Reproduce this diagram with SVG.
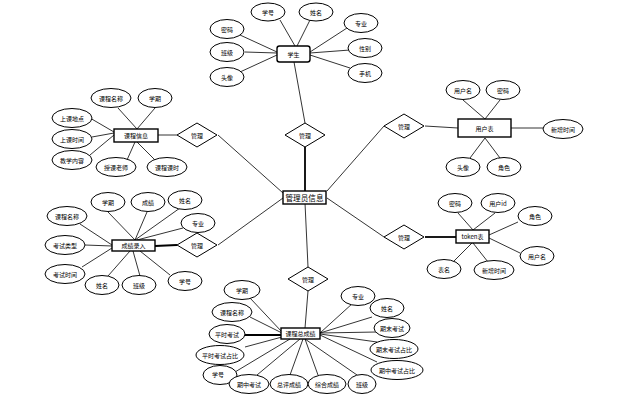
<svg xmlns="http://www.w3.org/2000/svg" width="622" height="403" viewBox="0 0 622 403">
<style>
.c{stroke:#000;stroke-width:0.8;fill:none}
.k{stroke:#000;stroke-width:1.8;fill:none}
.a{fill:#fff;stroke:#000;stroke-width:1}
.e{fill:#fff;stroke:#000;stroke-width:1.4}
.r{fill:#fff;stroke:#000;stroke-width:1}
text{font-family:"Noto Sans CJK SC","Noto Sans",sans-serif;font-size:6px;text-anchor:middle;dominant-baseline:central;fill:#000}
.big{font-size:7.6px}
</style>
<rect width="622" height="403" fill="#fff"/>
<g id="connectors">
<path class="k" d="M305,147 L305,191"/>
<path class="c" d="M294,62 L305,123"/>
<path class="c" d="M218,135 L283,193"/>
<path class="c" d="M218,245 L283,198"/>
<path class="c" d="M384,126 L327,191"/>
<path class="c" d="M384,237 L327,198"/>
<path class="c" d="M305,203 L308,267"/>
<path class="c" d="M158,135 L177,135"/>
<path class="k" d="M155,246 L177,245"/>
<path class="c" d="M425,126 L458,128"/>
<path class="k" d="M425,237 L456,237"/>
<path class="c" d="M305,328 L308,291"/>
<path class="c" d="M280,20 L295,46 M310,20 L297,46 M347,28 L310,52 M350,50 L310,53 M350,68 L310,55 M240,35 L277,52 M245,52 L277,53 M240,72 L277,55"/>
<path class="c" d="M118,108 L137,129 M155,108 L137,129 M90,118 L114,132 M92,137 L114,133 M90,155 L114,135 M127,160 L135,142 M155,160 L137,142"/>
<path class="c" d="M108,212 L135,240 M147,212 L135,240 M180,208 L135,240 M183,228 L137,240 M80,224 L112,245 M85,245 L112,246 M82,267 L112,248 M108,276 L130,251 M140,276 L133,251 M170,275 L140,251"/>
<path class="c" d="M463,100 L485,119 M500,100 L485,119 M511,128 L545,128 M470,158 L485,138 M500,158 L485,138"/>
<path class="c" d="M458,213 L473,230 M495,213 L473,230 M518,222 L489,235 M520,253 L489,238 M453,262 L472,243 M488,262 L473,243"/>
<path class="c" d="M250,298 L282,332 M250,317 L282,333 M245,347 L282,337 M235,372 L290,339 M257,375 L300,339 M290,375 L303,339 M318,375 L305,339 M357,375 L305,339 M353,303 L320,333 M372,317 L320,333 M377,332 L320,333 M377,342 L320,334 M377,362 L320,335"/>
<path class="k" d="M245,335 L282,335"/>
</g>
<g id="admin"><rect class="e" x="283" y="191" width="43" height="13"/><text class="big" x="304.5" y="197.5">管理员信息</text></g>
<g id="d1"><polygon class="r" points="285,135 305,123 325,135 305,147"/><text x="305" y="135">管理</text></g>
<g id="d2"><polygon class="r" points="177,135 197,123 217,135 197,147"/><text x="197" y="135">管理</text></g>
<g id="d3"><polygon class="r" points="177,245 197,233 217,245 197,257"/><text x="197" y="245">管理</text></g>
<g id="d4"><polygon class="r" points="384,126 404,114 424,126 404,138"/><text x="404" y="126">管理</text></g>
<g id="d5"><polygon class="r" points="384,237 404,225 424,237 404,249"/><text x="404" y="237">管理</text></g>
<g id="d6"><polygon class="r" points="288,279 308,267 328,279 308,291"/><text x="308" y="279">管理</text></g>

<g id="student"><rect class="e" x="277" y="46" width="33" height="16" rx="2.5"/><text x="293.5" y="54">学生</text></g>
<g id="s1"><ellipse class="a" cx="268" cy="12" rx="17" ry="9"/><text x="268" y="12">学号</text></g>
<g id="s2"><ellipse class="a" cx="316" cy="12" rx="17" ry="9"/><text x="316" y="12">姓名</text></g>
<g id="s3"><ellipse class="a" cx="361" cy="23" rx="17" ry="9.5"/><text x="361" y="23">专业</text></g>
<g id="s4"><ellipse class="a" cx="365" cy="48" rx="17" ry="9.5"/><text x="365" y="48">性别</text></g>
<g id="s5"><ellipse class="a" cx="365" cy="73" rx="17" ry="9.5"/><text x="365" y="73">手机</text></g>
<g id="s6"><ellipse class="a" cx="227" cy="29" rx="17" ry="9.5"/><text x="227" y="29">密码</text></g>
<g id="s7"><ellipse class="a" cx="227" cy="52" rx="17" ry="9.5"/><text x="227" y="52">班级</text></g>
<g id="s8"><ellipse class="a" cx="227" cy="77" rx="17" ry="9.5"/><text x="227" y="77">头像</text></g>

<g id="course"><rect class="e" x="114" y="129" width="44" height="13"/><text x="136" y="135.5">课程信息</text></g>
<g id="c1"><ellipse class="a" cx="111" cy="98" rx="20" ry="9.5"/><text x="111" y="98">课程名称</text></g>
<g id="c2"><ellipse class="a" cx="155" cy="98" rx="17" ry="9.5"/><text x="155" y="98">学期</text></g>
<g id="c3"><ellipse class="a" cx="72" cy="118" rx="20" ry="9.5"/><text x="72" y="118">上课地点</text></g>
<g id="c4"><ellipse class="a" cx="72" cy="139" rx="20" ry="9.5"/><text x="72" y="139">上课时间</text></g>
<g id="c5"><ellipse class="a" cx="72" cy="160" rx="20" ry="9.5"/><text x="72" y="160">教学内容</text></g>
<g id="c6"><ellipse class="a" cx="116" cy="167" rx="20" ry="9.5"/><text x="116" y="167">授课老师</text></g>
<g id="c7"><ellipse class="a" cx="167" cy="167" rx="20" ry="9.5"/><text x="167" y="167">课程课时</text></g>

<g id="grade"><rect class="e" x="112" y="240" width="43" height="11"/><text x="133.5" y="245.5">成绩录入</text></g>
<g id="g1"><ellipse class="a" cx="108" cy="202" rx="17" ry="9.5"/><text x="108" y="202">学期</text></g>
<g id="g2"><ellipse class="a" cx="148" cy="202" rx="17" ry="9.5"/><text x="148" y="202">成绩</text></g>
<g id="g3"><ellipse class="a" cx="185" cy="200" rx="17" ry="9.5"/><text x="185" y="200">姓名</text></g>
<g id="g4"><ellipse class="a" cx="198" cy="223" rx="17" ry="9.5"/><text x="198" y="223">专业</text></g>
<g id="g5"><ellipse class="a" cx="67" cy="216" rx="20" ry="9.5"/><text x="67" y="216">课程名称</text></g>
<g id="g6"><ellipse class="a" cx="65" cy="245" rx="20" ry="9.5"/><text x="65" y="245">考试类型</text></g>
<g id="g7"><ellipse class="a" cx="65" cy="274" rx="20" ry="9.5"/><text x="65" y="274">考试时间</text></g>
<g id="g8"><ellipse class="a" cx="102" cy="285" rx="17" ry="9.5"/><text x="102" y="285">姓名</text></g>
<g id="g9"><ellipse class="a" cx="139" cy="285" rx="17" ry="9.5"/><text x="139" y="285">班级</text></g>
<g id="g10"><ellipse class="a" cx="185" cy="281" rx="17" ry="9.5"/><text x="185" y="281">学号</text></g>

<g id="user"><rect class="e" x="458" y="119" width="53" height="18"/><text x="484.5" y="128">用户表</text></g>
<g id="u1"><ellipse class="a" cx="463" cy="90" rx="17" ry="9.5"/><text x="463" y="90">用户名</text></g>
<g id="u2"><ellipse class="a" cx="503" cy="90" rx="17" ry="9.5"/><text x="503" y="90">密码</text></g>
<g id="u3"><ellipse class="a" cx="563" cy="129" rx="20" ry="9.5"/><text x="563" y="129">新增时间</text></g>
<g id="u4"><ellipse class="a" cx="463" cy="167" rx="17" ry="9.5"/><text x="463" y="167">头像</text></g>
<g id="u5"><ellipse class="a" cx="504" cy="167" rx="17" ry="9.5"/><text x="504" y="167">角色</text></g>

<g id="token"><rect class="e" x="456" y="230" width="33" height="13"/><text x="472.5" y="236.5">token表</text></g>
<g id="t1"><ellipse class="a" cx="455" cy="203" rx="17" ry="9.5"/><text x="455" y="203">密码</text></g>
<g id="t2"><ellipse class="a" cx="498" cy="203" rx="17" ry="9.5"/><text x="498" y="203">用户id</text></g>
<g id="t3"><ellipse class="a" cx="535" cy="216" rx="17" ry="9.5"/><text x="535" y="216">角色</text></g>
<g id="t4"><ellipse class="a" cx="537" cy="256" rx="17" ry="9.5"/><text x="537" y="256">用户名</text></g>
<g id="t5"><ellipse class="a" cx="444" cy="269" rx="17" ry="9.5"/><text x="444" y="269">表名</text></g>
<g id="t6"><ellipse class="a" cx="494" cy="270" rx="20" ry="9.5"/><text x="494" y="270">新增时间</text></g>

<g id="total"><rect class="e" x="281" y="328" width="39" height="11"/><text x="300.5" y="333.5">课程总成绩</text></g>
<g id="k1"><ellipse class="a" cx="242" cy="290" rx="18" ry="9.5"/><text x="242" y="290">学期</text></g>
<g id="k2"><ellipse class="a" cx="232" cy="312" rx="20" ry="9.5"/><text x="232" y="312">课程名称</text></g>
<g id="k3"><ellipse class="a" cx="227" cy="334" rx="18" ry="9.5"/><text x="227" y="334">平时考试</text></g>
<g id="k4"><ellipse class="a" cx="220" cy="355" rx="24" ry="9.5"/><text x="220" y="355">平时考试占比</text></g>
<g id="k5"><ellipse class="a" cx="220" cy="375" rx="17" ry="9.5"/><text x="218" y="374">学号</text></g>
<g id="k6"><ellipse class="a" cx="249" cy="384" rx="20" ry="9.5"/><text x="249" y="384">期中考试</text></g>
<g id="k7"><ellipse class="a" cx="289" cy="384" rx="19" ry="9.5"/><text x="289" y="384">总评成绩</text></g>
<g id="k8"><ellipse class="a" cx="327" cy="384" rx="19" ry="9.5"/><text x="327" y="384">综合成绩</text></g>
<g id="k9"><ellipse class="a" cx="362" cy="384" rx="14" ry="9.5"/><text x="362" y="384">班级</text></g>
<g id="k10"><ellipse class="a" cx="358" cy="296" rx="17" ry="9.5"/><text x="358" y="296">专业</text></g>
<g id="k11"><ellipse class="a" cx="387" cy="308" rx="17" ry="9.5"/><text x="387" y="308">姓名</text></g>
<g id="k12"><ellipse class="a" cx="392" cy="328" rx="18" ry="9.5"/><text x="392" y="328">期末考试</text></g>
<g id="k13"><ellipse class="a" cx="394" cy="349" rx="24" ry="9.5"/><text x="394" y="349">期末考试占比</text></g>
<g id="k14"><ellipse class="a" cx="397" cy="370" rx="26" ry="9.5"/><text x="397" y="370">期中考试占比</text></g>
</svg>
